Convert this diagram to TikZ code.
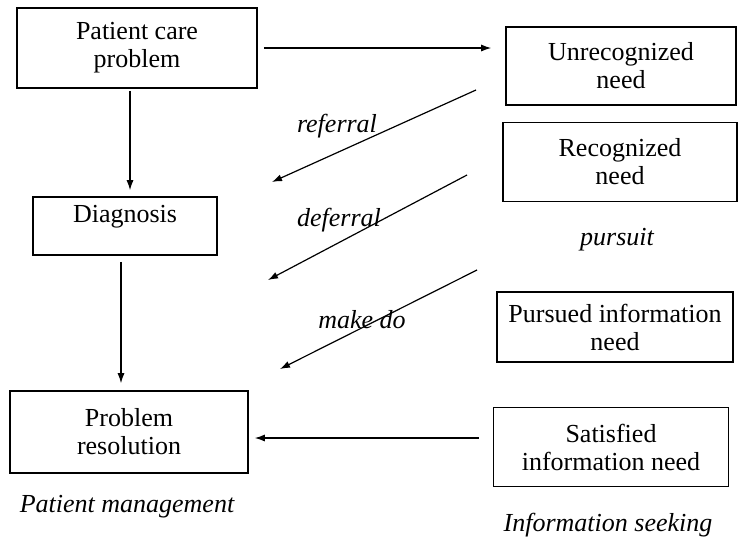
\documentclass[tikz,border=0pt]{standalone}
\usepackage{fontspec}
\setmainfont{Liberation Serif}
\usetikzlibrary{calc}
\usetikzlibrary{positioning,arrows.meta}

\begin{document}
\begin{tikzpicture}[x=0.5pt,y=-0.5pt,>={Latex[length=5pt,width=3.5pt]},
    box/.style={draw,thick,align=center,inner sep=2pt,font=\fontsize{13}{14}\selectfont},
    lbl/.style={font=\fontsize{13}{14}\selectfont\itshape},
    arr/.style={->,semithick}]
    \useasboundingbox (0,0) rectangle (739,541);
    % patient management side
    \node[box,minimum width=120pt,minimum height=40pt] (PCP) at (137,48) {Patient care\\problem};
    \node[box,minimum width=92pt,minimum height=29pt,text height=9pt,text depth=13pt] (D) at (125,226) {Diagnosis};
    \node[box,minimum width=119pt,minimum height=41pt] (PR) at (129,432) {Problem\\resolution};
    \node[lbl] (PM) at (127,507) {Patient management};
    % information seeking side
    \node[box,minimum width=115pt,minimum height=39pt] (UN) at (621,66) {Unrecognized\\need};
    \node[box,minimum width=117pt,minimum height=39.5pt] (RN) at (620,162) {Recognized\\need};
    \node[lbl] (PU) at (617,240) {pursuit};
    \node[box,minimum width=118pt,minimum height=35pt] (PN) at (615,327) {Pursued information\\need};
    \node[box,minimum width=117.5pt,minimum height=39.5pt] (SN) at (611,447) {Satisfied\\information need};
    \node[lbl] (IS) at (608,525) {Information seeking};
    % flows
    \draw[arr,shorten <=3pt,shorten >=7pt] (PCP.east) -- (PCP.east -| UN.west);
    \draw[arr,shorten <=1pt,shorten >=3pt] ([xshift=-3.5pt]PCP.south) -- ([xshift=-3.5pt]PCP.south |- D.north);
    \draw[arr,shorten <=3pt,shorten >=3.5pt] ([xshift=-2pt]D.south) -- ([xshift=-2pt]D.south |- PR.north);
    \draw[arr,shorten <=7pt,shorten >=3pt] ([yshift=-3pt]PR.east -| SN.west) -- ([yshift=-3pt]PR.east);
    % shortcuts
    \coordinate (R1) at (476,90);
    \coordinate (R2) at (272,182);
    \coordinate (F1) at (467,175);
    \coordinate (F2) at (268,280);
    \coordinate (M1) at (477,270);
    \coordinate (M2) at (280,369);
    \draw[arr] (R1) -- (R2);
    \draw[arr] (F1) -- (F2);
    \draw[arr] (M1) -- (M2);
    \node[lbl] (REF) at (337,126) {referral};
    \node[lbl] (DEF) at (339,220) {deferral};
    \node[lbl] (MD) at (362,320) {make do};
\end{tikzpicture}
\end{document}
